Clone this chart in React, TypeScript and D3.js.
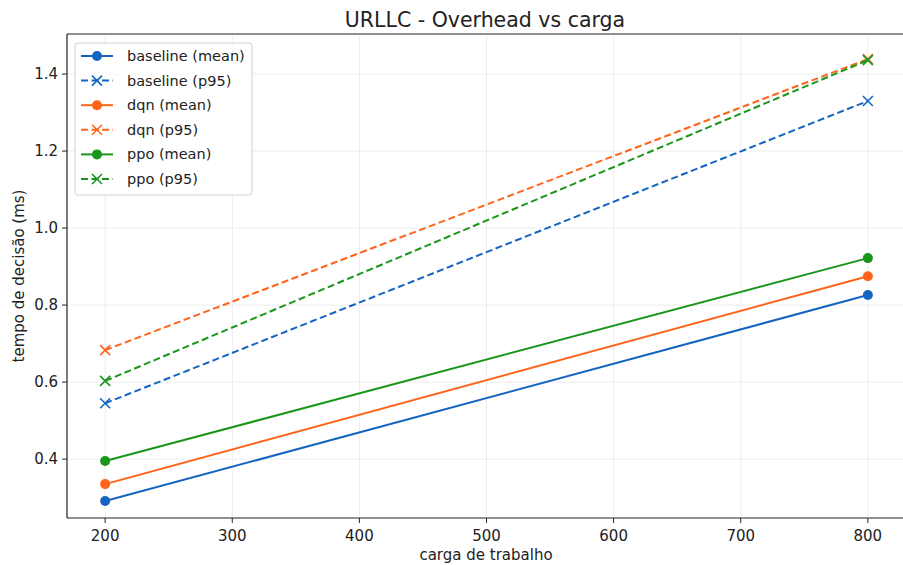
import React from "react";
import * as d3 from "d3";

const loads = [200, 800];
const baselineMean = [0.291, 0.826];
const baselineP95 = [0.545, 1.33];
const dqnMean = [0.335, 0.875];
const dqnP95 = [0.683, 1.439];
const ppoMean = [0.395, 0.922];
const ppoP95 = [0.603, 1.436];
const xTicks = [200, 300, 400, 500, 600, 700, 800];
const yTicks = [0.4, 0.6, 0.8, 1.0, 1.2, 1.4];

const BLUE = "#1565c0";
const ORANGE = "#ff6319";
const GREEN = "#1a961a";

const series = [
  { name: "baseline (mean)", values: baselineMean, color: BLUE, dashed: false },
  { name: "baseline (p95)", values: baselineP95, color: BLUE, dashed: true },
  { name: "dqn (mean)", values: dqnMean, color: ORANGE, dashed: false },
  { name: "dqn (p95)", values: dqnP95, color: ORANGE, dashed: true },
  { name: "ppo (mean)", values: ppoMean, color: GREEN, dashed: false },
  { name: "ppo (p95)", values: ppoP95, color: GREEN, dashed: true },
];

const W = 903;
const H = 565;
const left = 67;
const right = 906;
const top = 34;
const bottom = 518;
const FONT = "DejaVu Sans, sans-serif";

function Marker({ x, y, color, cross }: { x: number; y: number; color: string; cross: boolean }) {
  if (cross) {
    const s = 5;
    return (
      <g stroke={color} strokeWidth={1.6}>
        <line x1={x - s} y1={y - s} x2={x + s} y2={y + s} />
        <line x1={x - s} y1={y + s} x2={x + s} y2={y - s} />
      </g>
    );
  }
  return <circle cx={x} cy={y} r={5} fill={color} />;
}

export default function App() {
  const x = d3.scaleLinear().domain([170, 830]).range([left, right]);
  const y = d3.scaleLinear().domain([0.247, 1.504]).range([bottom, top]);
  const line = d3
    .line<number>()
    .x((_, i) => x(loads[i]))
    .y((d) => y(d));

  return (
    <svg
      width={W}
      height={H}
      style={{ position: "absolute", left: 0, top: 0, background: "#fff" }}
      fontFamily={FONT}
    >
      <rect x={0} y={0} width={W} height={H} fill="#fff" />
      {/* grid */}
      {xTicks.map((t) => (
        <line key={"gx" + t} x1={x(t)} x2={x(t)} y1={top} y2={bottom} stroke="#e8e8e8" strokeWidth={0.8} />
      ))}
      {yTicks.map((t) => (
        <line key={"gy" + t} x1={left} x2={right} y1={y(t)} y2={y(t)} stroke="#e8e8e8" strokeWidth={0.8} />
      ))}

      {/* lines */}
      {series.map((s) => (
        <g key={s.name}>
          <path
            d={line(s.values) || ""}
            fill="none"
            stroke={s.color}
            strokeWidth={2}
            strokeDasharray={s.dashed ? "7,3.5" : undefined}
          />
          {s.values.map((v, i) => (
            <Marker key={i} x={x(loads[i])} y={y(v)} color={s.color} cross={s.dashed} />
          ))}
        </g>
      ))}

      {/* spines (right one falls outside the picture) */}
      <line x1={left} x2={W} y1={top} y2={top} stroke="#222" strokeWidth={1.2} />
      <line x1={left} x2={W} y1={bottom} y2={bottom} stroke="#222" strokeWidth={1.2} />
      <line x1={left} x2={left} y1={top} y2={bottom} stroke="#222" strokeWidth={1.2} />

      {/* x ticks */}
      {xTicks.map((t) => (
        <g key={"tx" + t}>
          <line x1={x(t)} x2={x(t)} y1={bottom} y2={bottom + 5} stroke="#222" />
          <text x={x(t)} y={bottom + 23} textAnchor="middle" fontSize={15} fill="#222">
            {t}
          </text>
        </g>
      ))}
      {yTicks.map((t) => (
        <g key={"ty" + t}>
          <line x1={left - 5} x2={left} y1={y(t)} y2={y(t)} stroke="#222" />
          <text x={left - 9} y={y(t) + 5} textAnchor="end" fontSize={15} fill="#222">
            {t.toFixed(1)}
          </text>
        </g>
      ))}

      {/* labels */}
      <text x={486} y={560} textAnchor="middle" fontSize={15} fill="#222">
        carga de trabalho
      </text>
      <text
        transform={`translate(24, ${(top + bottom) / 2}) rotate(-90)`}
        textAnchor="middle"
        fontSize={15}
        fill="#222"
      >
        tempo de decisão (ms)
      </text>
      <text x={485} y={27} textAnchor="middle" fontSize={20.5} fill="#222">
        URLLC - Overhead vs carga
      </text>

      {/* legend */}
      <rect x={75} y={43} width={177} height={152} rx={3} fill="#fff" fillOpacity={0.85} stroke="#d0d0d0" />
      {series.map((s, i) => {
        const ly = 56 + i * 24.6;
        return (
          <g key={"lg" + s.name}>
            <line
              x1={81}
              x2={113}
              y1={ly}
              y2={ly}
              stroke={s.color}
              strokeWidth={2}
              strokeDasharray={s.dashed ? "7,3.5" : undefined}
            />
            <Marker x={97} y={ly} color={s.color} cross={s.dashed} />
            <text x={127} y={ly + 5} fontSize={14.5} fill="#222">
              {s.name}
            </text>
          </g>
        );
      })}
    </svg>
  );
}
